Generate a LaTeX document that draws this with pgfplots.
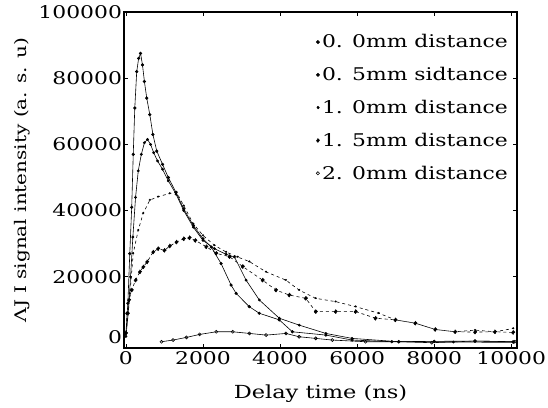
\documentclass[border=0pt]{standalone}
\usepackage{fontspec}
\setmainfont{DejaVu Serif}[FakeStretch=1.25]
\usepackage{pgfplots}
\pgfplotsset{compat=1.18}

\begin{document}
\begin{tikzpicture}
\begin{axis}[scale only axis,width=393pt,height=336pt,
  xmin=-50,xmax=10150,ymin=-1500,ymax=100000,
  xtick={0,2000,4000,6000,8000,10000},
  ytick={20000,40000,60000,80000,100000},
  extra y ticks={0},
  extra y tick style={yticklabel style={yshift=6pt},major tick length=0pt},
  scaled ticks=false,
  /pgf/number format/fixed,
  /pgf/number format/1000 sep={},
  /pgf/number format/assume math mode=true,
  tick align=inside,major tick length=4pt,
  axis line style={line width=1.6pt},
  tick style={black,line width=0.8pt},
  ticklabel style={font=\fontsize{17.5}{19}\selectfont},
  yticklabel style={xshift=1.5pt},
  xlabel={Delay time (ns)},
  ylabel={ΛJ I signal intensity (a. s. u)},
  xlabel style={font=\fontsize{18}{20}\selectfont,at={(axis description cs:0.5,-0.135)},anchor=center},
  ylabel style={font=\fontsize{16}{18}\selectfont,at={(axis description cs:-0.2595,0.5)},anchor=center},
  legend cell align=left,
  legend style={draw=none,fill=none,at={(0.99,0.945)},anchor=north east,
    font=\fontsize{17.5}{20}\selectfont,row sep=14pt,
    /tikz/every even column/.append style={column sep=0pt}},
  every axis plot/.append style={black,line width=0.6pt}]

% 0.0 mm
\addplot[mark=*,mark size=1.3pt,legend image code/.code={\fill (0,0) circle (1.6pt);}] coordinates {
(0,3000) (50,12000) (100,27000) (150,41000) (190,57000) (230,71000) (280,82000)
(330,86000) (380,87500) (430,84000) (480,79000) (540,74000) (620,69000) (700,63000)
(800,58000) (950,54000) (1100,50000) (1300,45500) (1500,40500) (1750,35500)
(2000,31500) (2215,29000) (2470,24000) (2730,17500) (2860,15000) (3200,11000)
(3460,9000) (3980,7000) (4320,3400) (5190,2400) (5870,900) (6900,400) (8000,500)
(9060,600) (10050,400)};
\addlegendentry{0. 0mm distance}

% 0.5 mm
\addplot[mark=*,mark size=1.1pt,legend image code/.code={\fill (0,0) circle (1.6pt);}] coordinates {
(0,2000) (60,9000) (120,20000) (180,32000) (250,44000) (320,52000) (400,57000)
(480,60500) (560,61500) (640,60000) (720,57500) (820,55000) (950,52500)
(1100,49000) (1300,45000) (1500,40000) (1750,35000) (2000,31000) (2300,28500)
(2600,26800) (2817,26000) (3119,19000) (3463,13000) (3980,7500) (4500,5400)
(5190,2900) (5870,1400) (7080,400) (8500,300) (10050,200)};
\addlegendentry{0. 5mm sidtance}

% 1.0 mm
\addplot[mark=*,mark size=0.9pt,dashed,legend image code/.code={\fill (0,0) circle (1.4pt);}] coordinates {
(0,3000) (60,9000) (105,15000) (190,27100) (320,34100) (449,39200) (622,43200)
(836,44200) (1138,45200) (1311,45600) (1500,41500) (1750,36000) (2000,32500)
(2300,29500) (2600,27500) (2900,26000) (3205,24600) (3636,21500) (4153,19000)
(4496,16000) (4927,13500) (5444,12500) (5960,11000) (6563,9000) (6993,7000)
(7510,6000) (8027,4100) (8544,3400) (9061,3900) (9577,3400) (10050,4400)};
\addlegendentry{1. 0mm distance}

% 1.5 mm
\addplot[mark=*,mark size=1.9pt,dashed,legend image code/.code={\fill (0,0) circle (1.8pt);}] coordinates {
(0,3000) (30,9000) (80,13000) (150,16000) (250,19000) (363,21500) (450,23000)
(550,24500) (707,27500) (836,28500) (1000,28000) (1138,29300) (1311,30500)
(1500,31500) (1650,31800) (1800,31000) (2085,29100) (2344,27100) (2688,26100)
(3032,23100) (3548,19000) (3894,16000) (4238,14500) (4668,13500) (4927,9500)
(5444,9500) (5960,9500) (6477,7500) (6993,7000) (7510,6000) (8027,4100)
(8544,3400) (9061,3300) (9577,3400) (10050,3200)};
\addlegendentry{1. 5mm distance}

% 2.0 mm
\addplot[mark=o,mark size=1.5pt,legend image code/.code={\draw (0,0) circle (1.6pt);}] coordinates {
(924,400) (1224,900) (1570,1700) (1913,2600) (2344,3400) (2773,3400) (3205,2900)
(3636,2400) (4153,2900) (4496,1900) (4927,1400) (5356,900) (6217,400) (7080,400)
(7940,100) (9060,600) (10093,400)};
\addlegendentry{2. 0mm distance}
\end{axis}
\pgfresetboundingbox
\path ([shift={(-124pt,-59pt)}]current axis.south west) rectangle ([shift={(31pt,12pt)}]current axis.north east);
\end{tikzpicture}
\end{document}
